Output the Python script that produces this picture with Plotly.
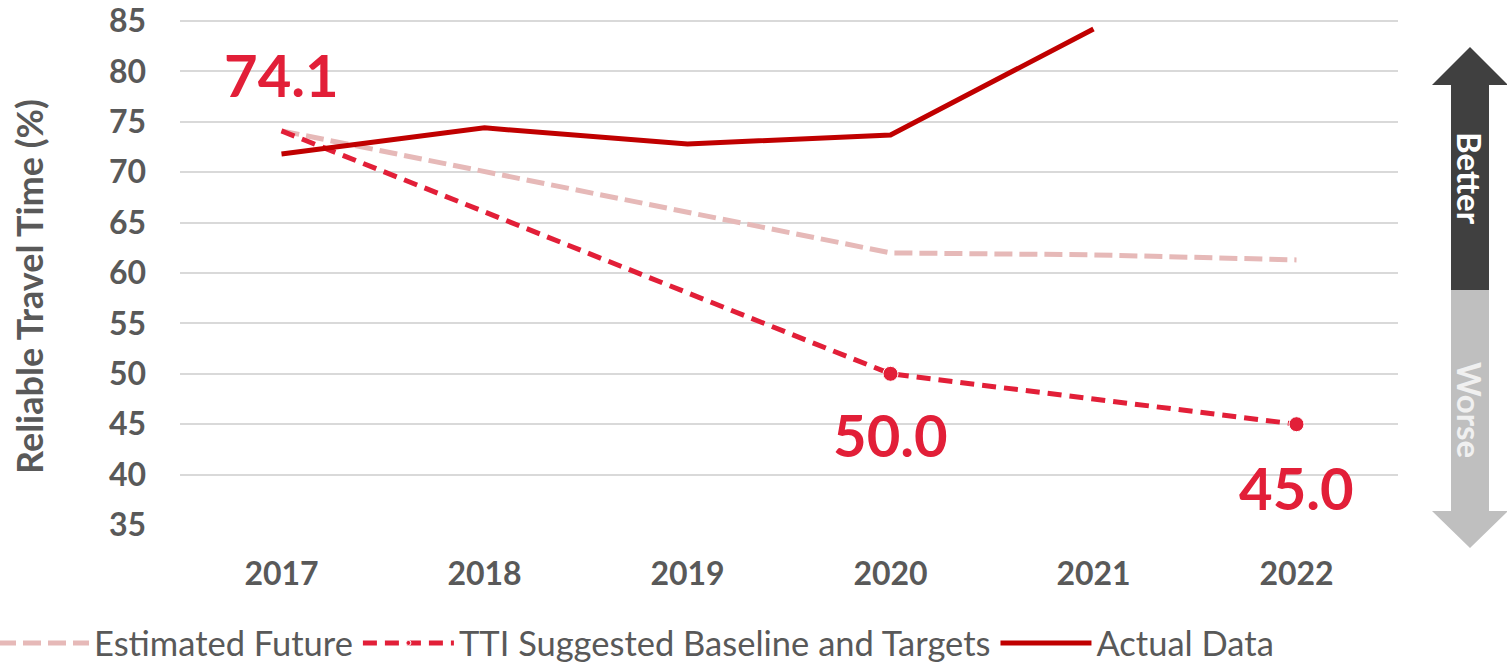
import plotly.graph_objects as go

# chart data
years = [2017, 2018, 2019, 2020, 2021, 2022]
estimated_future = [74.1, 70.1, 66.1, 62.0, 61.8, 61.3]
tti_targets = [74.1, 66.1, 58.0, 50.0, 47.5, 45.0]
actual_data = [71.8, 74.4, 72.8, 73.7, 84.2, None]
marker_years = [2020, 2022]
label_years = [2017, 2020, 2022]
label_values = [74.1, 50.0, 45.0]
y_ticks = [35, 40, 45, 50, 55, 60, 65, 70, 75, 80, 85]

GREY_TEXT = "#595959"
PINK = "#e6b9b8"
RED = "#e21f38"
DARK_RED = "#c00000"
FONT = "Lato"

W, H = 1507, 665
L, R, T, B = 180, 109, 19, 140


def px_x(p):
    return (p - L) / (W - L - R)


def px_y(p):
    return (H - B - p) / (H - T - B)


fig = go.Figure()

fig.add_trace(go.Scatter(
    x=years, y=estimated_future, name="Estimated Future", mode="lines",
    line=dict(color=PINK, width=5, dash="18px,7px"),
))
fig.add_trace(go.Scatter(
    x=years, y=tti_targets, name="TTI Suggested Baseline and Targets",
    mode="lines+markers",
    line=dict(color=RED, width=5, dash="14px,8px"),
    marker=dict(color=RED, opacity=1,
                size=[15 if y in marker_years else 0 for y in years]),
))
fig.add_trace(go.Scatter(
    x=years, y=actual_data, name="Actual Data", mode="lines",
    line=dict(color=DARK_RED, width=5),
))

# data labels on the target line
shifts = [56, -61, -63]
for yr, val, s in zip(label_years, label_values, shifts):
    fig.add_annotation(
        x=yr, y=val, text=f"{val:.1f}", showarrow=False, yshift=s,
        xanchor="center", yanchor="middle",
        font=dict(family=FONT, size=58, color=RED, weight="bold"),
    )

# y axis title, placed as Excel places it
fig.add_annotation(
    xref="paper", yref="paper", x=px_x(29), y=px_y(287), textangle=-90,
    text="Reliable Travel Time (%)", showarrow=False,
    xanchor="center", yanchor="middle",
    font=dict(family=FONT, size=36, color=GREY_TEXT, weight="bold"),
)

# better / worse arrow on the right
x0, x1 = px_x(1451), px_x(1489)
hx0, hx1, tipx = px_x(1432), px_x(1508), px_x(1470)
up_tip, up_base, mid = px_y(47), px_y(85), px_y(290)
dn_base, dn_tip = px_y(511), px_y(548)

fig.add_shape(
    type="path", xref="paper", yref="paper", line_width=0, fillcolor="#404040",
    layer="below",
    path=f"M{x0},{mid} L{x0},{up_base} L{hx0},{up_base} L{tipx},{up_tip} "
         f"L{hx1},{up_base} L{x1},{up_base} L{x1},{mid} Z",
)
fig.add_shape(
    type="path", xref="paper", yref="paper", line_width=0, fillcolor="#bfbfbf",
    layer="below",
    path=f"M{x0},{mid} L{x0},{dn_base} L{hx0},{dn_base} L{tipx},{dn_tip} "
         f"L{hx1},{dn_base} L{x1},{dn_base} L{x1},{mid} Z",
)
fig.add_annotation(
    xref="paper", yref="paper", x=tipx, y=px_y(178), text="Better", textangle=90,
    xanchor="center", yanchor="middle", showarrow=False,
    font=dict(family=FONT, size=33, color="white", weight="bold"),
)
fig.add_annotation(
    xref="paper", yref="paper", x=tipx, y=px_y(410), text="Worse", textangle=90,
    xanchor="center", yanchor="middle", showarrow=False,
    font=dict(family=FONT, size=33, color="#f0f0f0", weight="bold"),
)

fig.update_layout(
    width=W, height=H,
    margin=dict(l=L, r=R, t=T, b=B, autoexpand=False),
    paper_bgcolor="white", plot_bgcolor="white",
    font=dict(family=FONT, color=GREY_TEXT),
    showlegend=True,
    legend=dict(
        orientation="h", x=px_x(-7), y=px_y(643), xanchor="left", yanchor="middle",
        font=dict(family=FONT, size=34.5, color=GREY_TEXT),
        itemwidth=91, traceorder="normal",
    ),
)
fig.update_xaxes(
    range=[2016.5, 2022.5], tickvals=years, showgrid=False, zeroline=False,
    showline=False, ticks="", ticklabelstandoff=27,
    tickfont=dict(family=FONT, size=32, color=GREY_TEXT, weight="bold"),
)
fig.update_yaxes(
    range=[35, 85.2], tickvals=y_ticks, showgrid=True, gridcolor="#d9d9d9",
    gridwidth=2, zeroline=False, showline=False, ticks="", ticklabelstandoff=33,
    ticklabeloverflow="allow",
    tickfont=dict(family=FONT, size=32, color=GREY_TEXT, weight="bold"),
)

fig.write_html(
    "out.html",
    config={"displayModeBar": False},
    post_script="document.body.style.margin='0';",
)
